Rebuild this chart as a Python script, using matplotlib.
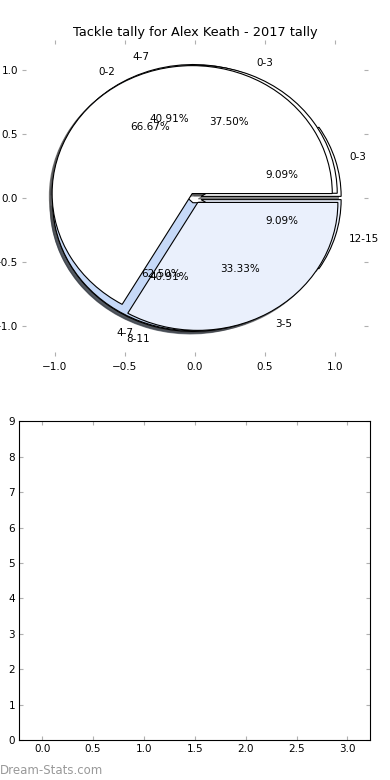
import matplotlib
matplotlib.use("Agg")
import matplotlib.pyplot as plt

# ---- data ----
title = "Tackle tally for Alex Keath - 2017 tally"
labels_a = ["0-2", "3-5"]
values_a = [2, 1]
labels_b = ["0-3", "4-7", "8-11", "12-15"]
values_b = [1, 4.5, 4.5, 1]
labels_c = ["0-3", "4-7"]
values_c = [3, 5]
bar_xticks = [0.0, 0.5, 1.0, 1.5, 2.0, 2.5, 3.0]
bar_yticks = list(range(0, 10))

WHITE = "#ffffff"
LIGHT = "#eaf0fc"
MID = "#c6d9f8"
colors_a = [WHITE, LIGHT]
colors_b = [WHITE, LIGHT, MID, LIGHT]
colors_c = [WHITE, MID]

plt.rcParams['font.family'] = ['DejaVu Sans']
FS = 7.5

fig = plt.figure(figsize=(3.9, 7.8), dpi=100)
ax = fig.add_axes([22/390, (780-356)/780, 346/390, 316/780])

wp = dict(edgecolor="black", linewidth=0.8)
tp = dict(fontsize=FS)
shadow = {'ox': -0.014, 'oy': -0.014, 'alpha': 0.65}
for vals, labs, cols, ex in [(values_b, labels_b, colors_b, 0.045),
                             (values_c, labels_c, colors_c, 0.04),
                             (values_a, labels_a, colors_a, 0.04)]:
    ax.pie(vals, labels=labs, colors=cols, explode=[ex]*len(vals),
           autopct='%.2f%%', shadow=shadow, wedgeprops=wp, textprops=tp,
           frame=True)

ax.set_aspect('auto')
ax.set_xlim(-1.235, 1.235)
ax.set_ylim(-1.235, 1.235)
ax.set_xticks([-1.0, -0.5, 0.0, 0.5, 1.0])
ax.set_yticks([-1.0, -0.5, 0.0, 0.5, 1.0])
ax.set_xticklabels(["\u22121.0", "\u22120.5", "0.0", "0.5", "1.0"])
ax.set_yticklabels(["\u22121.0", "\u22120.5", "0.0", "0.5", "1.0"])
for s in ax.spines.values():
    s.set_visible(False)
ax.tick_params(direction='in', length=3, width=0.8, color='#b0b0b0',
               top=True, right=True, labelsize=FS)
ax.tick_params(axis='x', pad=4)
ax.tick_params(axis='y', pad=3)
ax.set_title(title, fontsize=9.3, pad=3)

ax2 = fig.add_axes([19.3/390, (780-740)/780, 351/390, 318.7/780])
ax2.set_xlim(-0.225, 3.225)
ax2.set_ylim(0, 9)
ax2.set_xticks(bar_xticks)
ax2.set_yticks(bar_yticks)
ax2.tick_params(direction='in', length=3, width=0.8, color='#b0b0b0',
                top=True, right=True, labelsize=FS, pad=3)
for s in ax2.spines.values():
    s.set_linewidth(0.8)

fig.text(0.0, 1 - 770/780, "Dream-Stats.com", fontsize=8.5, color='#999999',
         ha='left', va='center')

fig.savefig("out.png", dpi=100)
